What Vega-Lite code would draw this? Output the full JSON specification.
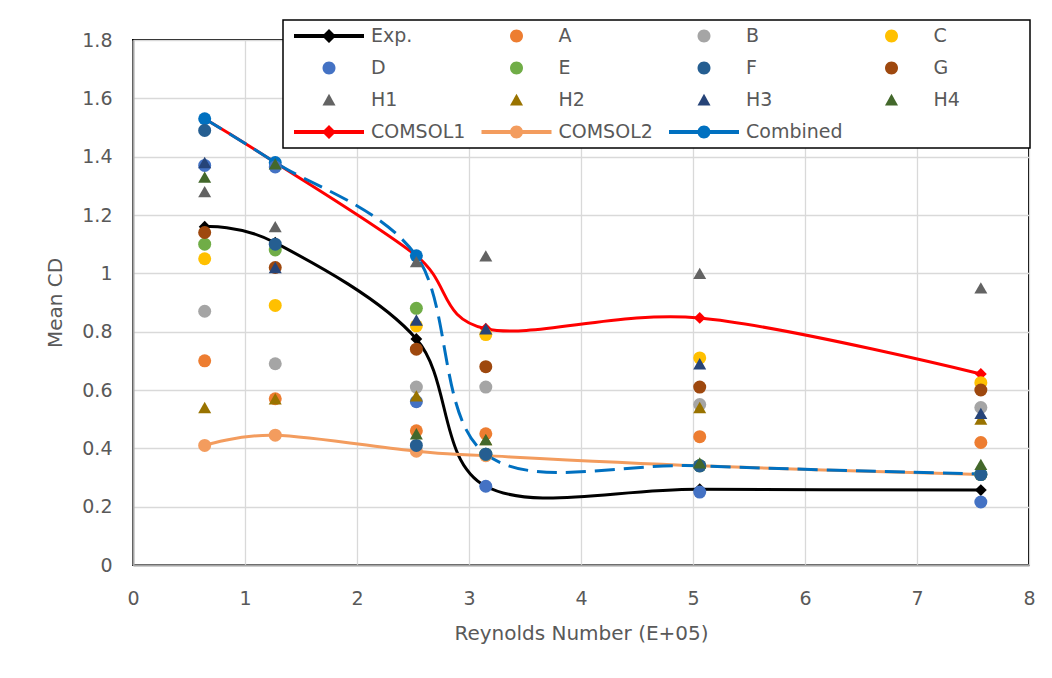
{
  "$schema": "https://vega.github.io/schema/vega-lite/v6.json",
  "width": 896,
  "height": 525,
  "autosize": "none",
  "padding": {"left": 133, "top": 40, "right": 23, "bottom": 113},
  "background": "white",
  "config": {
    "view": {"stroke": "#000000", "strokeWidth": 2},
    "font": "DejaVu Sans",
    "axis": {
      "labelFont": "DejaVu Sans", "labelFontSize": 19, "labelColor": "#595959",
      "titleFont": "DejaVu Sans", "titleFontSize": 20, "titleFontWeight": "normal", "titleColor": "#595959",
      "gridColor": "#D9D9D9", "gridWidth": 1.3,
      "domainColor": "#A6A6A6", "domainWidth": 2,
      "ticks": false, "tickSize": 0, "labelFlush": false, "labelOverlap": false
    },
    "legend": {
      "symbolSize": 400, "symbolStrokeWidth": 0, "symbolOpacity": 1,
      "labelFont": "DejaVu Sans", "labelFontSize": 19, "labelColor": "#595959", "labelLimit": 300,
      "strokeWidth": 1.5
    }
  },
  "data": {"values": [
    {"s": "Exp.", "x": 0.64, "y": 1.16}, {"s": "Exp.", "x": 1.27, "y": 1.105}, {"s": "Exp.", "x": 2.53, "y": 0.775}, {"s": "Exp.", "x": 3.15, "y": 0.27}, {"s": "Exp.", "x": 5.06, "y": 0.26}, {"s": "Exp.", "x": 7.57, "y": 0.257},
    {"s": "COMSOL1", "x": 0.64, "y": 1.53}, {"s": "COMSOL1", "x": 1.27, "y": 1.38}, {"s": "COMSOL1", "x": 2.53, "y": 1.06}, {"s": "COMSOL1", "x": 3.15, "y": 0.81}, {"s": "COMSOL1", "x": 5.06, "y": 0.847}, {"s": "COMSOL1", "x": 7.57, "y": 0.655},
    {"s": "COMSOL2", "x": 0.64, "y": 0.41}, {"s": "COMSOL2", "x": 1.27, "y": 0.445}, {"s": "COMSOL2", "x": 2.53, "y": 0.39}, {"s": "COMSOL2", "x": 3.15, "y": 0.375}, {"s": "COMSOL2", "x": 5.06, "y": 0.34}, {"s": "COMSOL2", "x": 7.57, "y": 0.31},
    {"s": "Combined", "x": 0.64, "y": 1.53}, {"s": "Combined", "x": 1.27, "y": 1.38}, {"s": "Combined", "x": 2.53, "y": 1.06}, {"s": "Combined", "x": 3.15, "y": 0.38}, {"s": "Combined", "x": 5.06, "y": 0.34}, {"s": "Combined", "x": 7.57, "y": 0.312},
    {"s": "A", "x": 0.64, "y": 0.70}, {"s": "A", "x": 1.27, "y": 0.57}, {"s": "A", "x": 2.53, "y": 0.46}, {"s": "A", "x": 3.15, "y": 0.45}, {"s": "A", "x": 5.06, "y": 0.44}, {"s": "A", "x": 7.57, "y": 0.42},
    {"s": "B", "x": 0.64, "y": 0.87}, {"s": "B", "x": 1.27, "y": 0.69}, {"s": "B", "x": 2.53, "y": 0.61}, {"s": "B", "x": 3.15, "y": 0.61}, {"s": "B", "x": 5.06, "y": 0.55}, {"s": "B", "x": 7.57, "y": 0.54},
    {"s": "C", "x": 0.64, "y": 1.05}, {"s": "C", "x": 1.27, "y": 0.89}, {"s": "C", "x": 2.53, "y": 0.82}, {"s": "C", "x": 3.15, "y": 0.79}, {"s": "C", "x": 5.06, "y": 0.71}, {"s": "C", "x": 7.57, "y": 0.625},
    {"s": "D", "x": 0.64, "y": 1.37}, {"s": "D", "x": 1.27, "y": 1.365}, {"s": "D", "x": 2.53, "y": 0.56}, {"s": "D", "x": 3.15, "y": 0.27}, {"s": "D", "x": 5.06, "y": 0.25}, {"s": "D", "x": 7.57, "y": 0.216},
    {"s": "E", "x": 0.64, "y": 1.10}, {"s": "E", "x": 1.27, "y": 1.08}, {"s": "E", "x": 2.53, "y": 0.88}, {"s": "E", "x": 3.15, "y": 0.38}, {"s": "E", "x": 5.06, "y": 0.34}, {"s": "E", "x": 7.57, "y": 0.31},
    {"s": "F", "x": 0.64, "y": 1.49}, {"s": "F", "x": 1.27, "y": 1.10}, {"s": "F", "x": 2.53, "y": 0.41}, {"s": "F", "x": 3.15, "y": 0.38}, {"s": "F", "x": 5.06, "y": 0.34}, {"s": "F", "x": 7.57, "y": 0.31},
    {"s": "G", "x": 0.64, "y": 1.14}, {"s": "G", "x": 1.27, "y": 1.02}, {"s": "G", "x": 2.53, "y": 0.74}, {"s": "G", "x": 3.15, "y": 0.68}, {"s": "G", "x": 5.06, "y": 0.61}, {"s": "G", "x": 7.57, "y": 0.60},
    {"s": "H1", "x": 0.64, "y": 1.28}, {"s": "H1", "x": 1.27, "y": 1.16}, {"s": "H1", "x": 2.53, "y": 1.04}, {"s": "H1", "x": 3.15, "y": 1.06}, {"s": "H1", "x": 5.06, "y": 1.00}, {"s": "H1", "x": 7.57, "y": 0.95},
    {"s": "H2", "x": 0.64, "y": 0.54}, {"s": "H2", "x": 1.27, "y": 0.57}, {"s": "H2", "x": 2.53, "y": 0.58}, {"s": "H2", "x": 3.15, "y": 0.43}, {"s": "H2", "x": 5.06, "y": 0.54}, {"s": "H2", "x": 7.57, "y": 0.50},
    {"s": "H3", "x": 0.64, "y": 1.38}, {"s": "H3", "x": 1.27, "y": 1.02}, {"s": "H3", "x": 2.53, "y": 0.84}, {"s": "H3", "x": 3.15, "y": 0.81}, {"s": "H3", "x": 5.06, "y": 0.69}, {"s": "H3", "x": 7.57, "y": 0.52},
    {"s": "H4", "x": 0.64, "y": 1.33}, {"s": "H4", "x": 1.27, "y": 1.375}, {"s": "H4", "x": 2.53, "y": 0.45}, {"s": "H4", "x": 3.15, "y": 0.43}, {"s": "H4", "x": 5.06, "y": 0.35}, {"s": "H4", "x": 7.57, "y": 0.345}
  ]},
  "encoding": {
    "x": {"field": "x", "type": "quantitative", "scale": {"domain": [0, 8], "nice": false, "zero": false},
      "axis": {"title": "Reynolds Number (E+05)", "values": [0, 1, 2, 3, 4, 5, 6, 7, 8], "labelPadding": 24, "titlePadding": 15, "grid": true}},
    "y": {"field": "y", "type": "quantitative", "scale": {"domain": [0, 1.8], "nice": false},
      "axis": {"title": "Mean CD", "values": [0, 0.2, 0.4, 0.6, 0.8, 1, 1.2, 1.4, 1.6, 1.8], "format": "~g", "labelPadding": 21, "titlePadding": 16, "grid": true}},
    "color": {"field": "s", "type": "nominal",
      "scale": {
        "domain": ["Exp.", "D", "H1", "COMSOL1", "A", "E", "H2", "COMSOL2", "B", "F", "H3", "Combined", "C", "G", "H4"],
        "range": ["#000000", "#4472C4", "#636363", "#FF0000", "#ED7D31", "#70AD47", "#997300", "#F39C5E", "#A5A5A5", "#255E91", "#264478", "#0070C0", "#FFC000", "#9E480E", "#43682B"]
      },
      "legend": {
        "title": " ", "titleOrient": "right", "titleFontSize": 2, "titlePadding": 64,
        "orient": "none", "legendX": 150, "legendY": -20,
        "columns": 4, "gridAlign": "all", "columnPadding": 8.5, "rowPadding": 12,
        "labelOffset": 62, "padding": 6, "strokeColor": "#000000", "fillColor": "#FFFFFF"
      }
    }
  },
  "layer": [
    {"transform": [{"filter": "datum.s === 'Exp.'"}],
     "mark": {"type": "line", "interpolate": "cardinal", "strokeWidth": 3}},
    {"transform": [{"filter": "datum.s === 'COMSOL1'"}],
     "mark": {"type": "line", "interpolate": "cardinal", "strokeWidth": 3}},
    {"transform": [{"filter": "datum.s === 'COMSOL2'"}],
     "mark": {"type": "line", "interpolate": "cardinal", "strokeWidth": 3}},
    {"transform": [{"filter": "datum.s === 'Combined'"}],
     "mark": {"type": "line", "interpolate": "cardinal", "strokeWidth": 3, "strokeDash": [20, 9]}},
    {"transform": [{"filter": "datum.s === 'Exp.' || datum.s === 'COMSOL1'"}],
     "mark": {"type": "point", "shape": "diamond", "size": 140, "filled": true, "opacity": 1, "strokeWidth": 0}},
    {"transform": [{"filter": "datum.s === 'COMSOL2' || datum.s === 'Combined'"}],
     "mark": {"type": "point", "shape": "circle", "size": 169, "filled": true, "opacity": 1, "strokeWidth": 0}},
    {"transform": [{"filter": "indexof(['A','B','C','D','E','F','G'], datum.s) >= 0"}],
     "mark": {"type": "point", "shape": "circle", "size": 169, "filled": true, "opacity": 1, "strokeWidth": 0}},
    {"transform": [{"filter": "indexof(['H1','H2','H3','H4'], datum.s) >= 0"}],
     "mark": {"type": "point", "shape": "triangle-up", "size": 169, "filled": true, "opacity": 1, "strokeWidth": 0}},
    {"mark": {"type": "point", "filled": true, "opacity": 0, "strokeWidth": 0},
     "encoding": {
       "shape": {"field": "s", "type": "nominal",
         "scale": {
           "domain": ["Exp.", "D", "H1", "COMSOL1", "A", "E", "H2", "COMSOL2", "B", "F", "H3", "Combined", "C", "G", "H4"],
           "range": [
             "M-0.5,-0.2H6.5V0.2H-0.5Z M3,-0.7L3.7,0L3,0.7L2.3,0Z",
             "M3.65,0A0.65,0.65 0 1,1 2.35,0A0.65,0.65 0 1,1 3.65,0Z",
             "M3,-0.62L3.65,0.55L2.35,0.55Z",
             "M-0.5,-0.2H6.5V0.2H-0.5Z M3,-0.7L3.7,0L3,0.7L2.3,0Z",
             "M3.65,0A0.65,0.65 0 1,1 2.35,0A0.65,0.65 0 1,1 3.65,0Z",
             "M3.65,0A0.65,0.65 0 1,1 2.35,0A0.65,0.65 0 1,1 3.65,0Z",
             "M3,-0.62L3.65,0.55L2.35,0.55Z",
             "M-0.5,-0.2H6.5V0.2H-0.5Z M3.65,0A0.65,0.65 0 1,1 2.35,0A0.65,0.65 0 1,1 3.65,0Z",
             "M3.65,0A0.65,0.65 0 1,1 2.35,0A0.65,0.65 0 1,1 3.65,0Z",
             "M3.65,0A0.65,0.65 0 1,1 2.35,0A0.65,0.65 0 1,1 3.65,0Z",
             "M3,-0.62L3.65,0.55L2.35,0.55Z",
             "M-0.5,-0.2H6.5V0.2H-0.5Z M3.65,0A0.65,0.65 0 1,1 2.35,0A0.65,0.65 0 1,1 3.65,0Z",
             "M3.65,0A0.65,0.65 0 1,1 2.35,0A0.65,0.65 0 1,1 3.65,0Z",
             "M3.65,0A0.65,0.65 0 1,1 2.35,0A0.65,0.65 0 1,1 3.65,0Z",
             "M3,-0.62L3.65,0.55L2.35,0.55Z"
           ]
         },
         "legend": {
           "title": " ", "titleOrient": "right", "titleFontSize": 2, "titlePadding": 64,
           "orient": "none", "legendX": 150, "legendY": -20,
           "columns": 4, "gridAlign": "all", "columnPadding": 8.5, "rowPadding": 12,
           "labelOffset": 62, "padding": 6, "strokeColor": "#000000", "fillColor": "#FFFFFF"
         }}
     }}
  ]
}
